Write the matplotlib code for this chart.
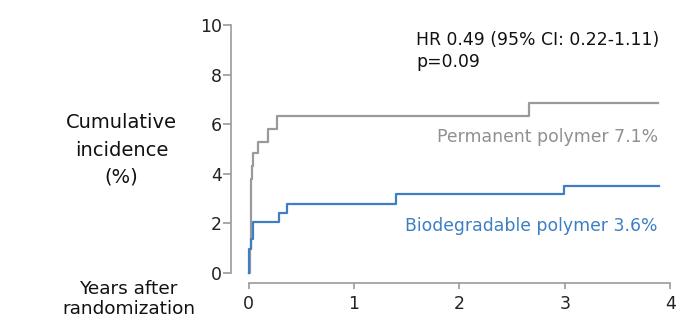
import matplotlib
matplotlib.use("Agg")
import matplotlib.pyplot as plt

plt.rcParams['font.family'] = ['DejaVu Sans']

# step curves (years, cumulative incidence %)
perm_t = [0, 0.01, 0.018, 0.022, 0.035, 0.044, 0.085, 0.18, 0.27, 2.66, 3.88]
perm_y = [0, 0.95, 1.4, 3.8, 4.32, 4.82, 5.29, 5.81, 6.34, 6.84, 6.84]
bio_t = [0, 0.005, 0.022, 0.04, 0.29, 0.36, 1.40, 2.99, 3.89]
bio_y = [0, 0.98, 1.36, 2.05, 2.41, 2.8, 3.17, 3.52, 3.52]

xticks = [0, 1, 2, 3, 4]
yticks = [0, 2, 4, 6, 8, 10]

gray = '#9a9a9a'
blue = '#3d7fc2'

fig = plt.figure(figsize=(6.87, 3.2), dpi=100)
ax = fig.add_axes([0.362, 0.147, 0.6137, 0.775])

ax.step(perm_t, perm_y, where='post', color=gray, lw=1.6, clip_on=False)
ax.step(bio_t, bio_y, where='post', color=blue, lw=1.6, clip_on=False)

ax.set_xlim(0, 4)
ax.set_ylim(0, 10)
ax.set_xticks(xticks)
ax.set_yticks(yticks)

for s in ['top', 'right']:
    ax.spines[s].set_visible(False)
ax.spines['left'].set_position(('outward', 12.7))
ax.spines['bottom'].set_position(('outward', 7.2))
for s in ['left', 'bottom']:
    ax.spines[s].set_color(gray)
    ax.spines[s].set_linewidth(1.2)
ax.tick_params(axis='y', length=5.5, width=1.2, color=gray, pad=1,
               labelsize=12.5, labelcolor='#222222')
ax.tick_params(axis='x', length=4, width=1.2, color=gray, pad=5,
               labelsize=12.5, labelcolor='#222222')

fig.text(0.177, 0.531, 'Cumulative\nincidence\n(%)', ha='center', va='center',
         fontsize=14, linespacing=1.55, color='#111111')
fig.text(0.187, 0.067, 'Years after\nrandomization', ha='center', va='center',
         fontsize=13.3, linespacing=1.15, color='#111111')

ax.text(0.397, 0.975, 'HR 0.49 (95% CI: 0.22-1.11)\np=0.09', transform=ax.transAxes,
        ha='left', va='top', fontsize=12.4, linespacing=1.25,
        color='#111111')
ax.text(3.88, 5.5, 'Permanent polymer 7.1%', ha='right', va='center',
        fontsize=12.4, color='#909090')
ax.text(3.88, 1.9, 'Biodegradable polymer 3.6%', ha='right', va='center',
        fontsize=12.4, color=blue)

fig.savefig('out.png', dpi=100)
